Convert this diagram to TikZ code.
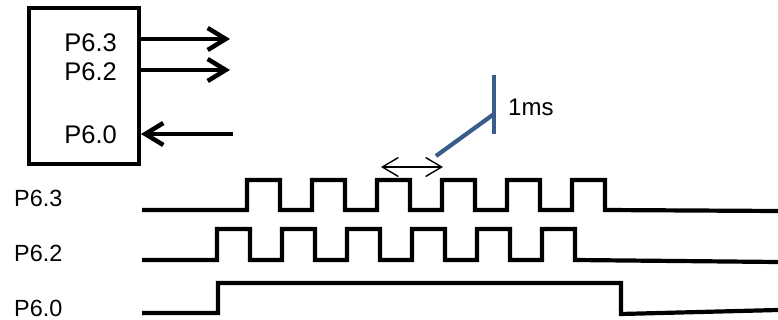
\documentclass[tikz,border=0pt]{standalone}
\usepackage{fontspec}
\setmainfont{Liberation Sans}
\usetikzlibrary{arrows.meta}
\definecolor{MarkClr}{RGB}{56,93,138}

\begin{document}
\begin{tikzpicture}[x=1pt,y=-1pt,
  wave/.style={line width=4.2pt,line join=miter},
  pin/.style={line width=4.5pt,-{Straight Barb[length=18pt,width=22pt]}},
  lbl/.style={inner sep=0pt,font=\fontsize{25.5}{30}\selectfont},
  sig/.style={inner sep=0pt,font=\fontsize{23.4}{28}\selectfont}]
\useasboundingbox (0,0) rectangle (778,320);

% port box
\node[draw,line width=4pt,minimum width=110pt,minimum height=156pt] (port) at (84,86) {};
\node[lbl,anchor=east] (p63) at (117,43) {P6.3};
\node[lbl,anchor=east] (p62) at (117,72) {P6.2};
\node[lbl,anchor=east] (p60) at (117,135) {P6.0};

\coordinate (out63) at (230,39);
\coordinate (out62) at (230,70);
\coordinate (in60) at (233,134);
\draw[pin] (port.east |- out63) -- (out63);
\draw[pin] (port.east |- out62) -- (out62);
\draw[pin] (in60) -- (port.east |- in60);

% signal names
\node[sig,anchor=west] (s63) at (14,198) {P6.3};
\node[sig,anchor=west] (s62) at (14,253) {P6.2};
\node[sig,anchor=west] (s60) at (14,308) {P6.0};

% waveforms
\draw[wave] (142,210) \foreach \k in {0,...,5}{
  -- ({247+65*\k},210) -- ++(0,-30) -- ++(33,0) -- ++(0,30)} -- (778,211);
\draw[wave] (142,260) \foreach \k in {0,...,5}{
  -- ({217+65*\k},260) -- ++(0,-31) -- ++(33,0) -- ++(0,31)} -- (778,262);
\draw[wave] (142,313) -- (218,313) -- (218,283) -- (621,283) -- (621,314) -- (778,310);

% period mark
\coordinate (t0) at (381,167);
\coordinate (t1) at (443,167);
\draw[line width=1.4pt,{Straight Barb[length=16pt,width=19pt]}-{Straight Barb[length=16pt,width=19pt]}] (t0) -- (t1);

\coordinate (b0) at (436,156);
\coordinate (b1) at (494,114);
\coordinate (bt) at (494,75);
\coordinate (bb) at (494,134);
\draw[MarkClr,line width=4.2pt] (b0) -- (b1);
\draw[MarkClr,line width=4.2pt] (bt) -- (bb);
\node[inner sep=0pt,anchor=west,font=\fontsize{24}{28}\selectfont] (ms) at (508,107) {1ms};

\end{tikzpicture}
\end{document}
